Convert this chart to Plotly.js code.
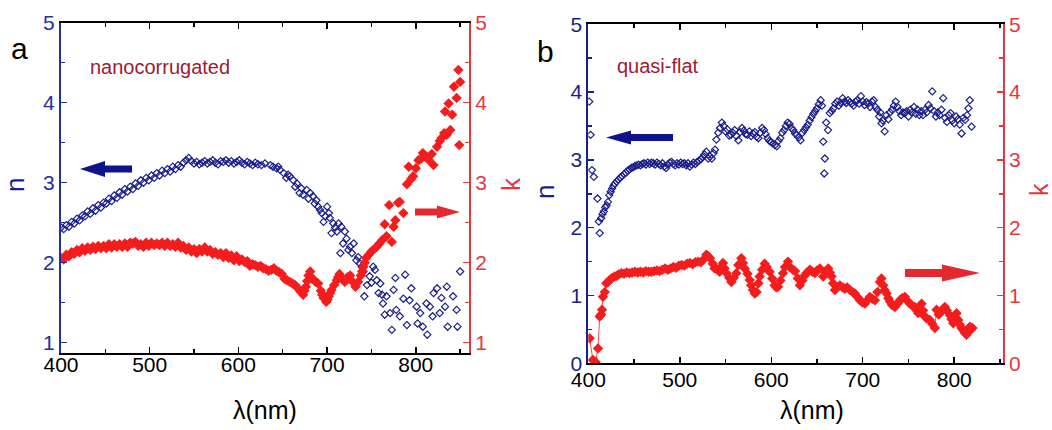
<!DOCTYPE html>
<html>
<head>
<meta charset="utf-8">
<script src="https://cdn.plot.ly/plotly-3.0.1.min.js"></script>
<style>html,body{margin:0;padding:0;background:#fff;}#chart{width:1052px;height:430px;}</style>
</head>
<body>
<div id="chart"></div>
<script>
// ---------- Panel a (nanocorrugated) : refractive index n ----------
const aN_wl = [400,403,406,409,412,415,418,421,424,427,430,433,436,439,442,445,448,451,454,457,460,463,466,469,472,475,478,481,484,487,490,493,496,499,502,505,508,511,514,517,520,523,526,529,532,535,538,541,544,547,550,553,556,559,562,565,568,571,574,577,580,583,586,589,592,595,598,601,604,607,610,613,616,619,622,
626,630,636,639,643,645,647,651,654,656,658,662,664,666,669,671,673,677,679,681,684,686,688,690,692,694,696,698,700,702,703,705,707,709,711,713,715,716,718,720,722,724,726,728,730,733,735,737,739,741,742,745,748,750,752,754,756,758,760,
762,763,765,767,771,773,775,777,778,782,786,788,790,793,795,801,802,805,808,812,813,816,819,820,824,827,829,833,835,836,842,846,847,850];
const aN_val = [2.44,2.42,2.47,2.45,2.51,2.49,2.55,2.53,2.59,2.58,2.64,2.61,2.68,2.65,2.72,2.69,2.75,2.74,2.80,2.77,2.84,2.81,2.88,2.85,2.92,2.89,2.95,2.92,2.99,2.96,3.03,3.00,3.06,3.03,3.09,3.06,3.12,3.09,3.15,3.12,3.17,3.14,3.20,3.17,3.22,3.20,3.25,3.28,3.31,3.27,3.24,3.26,3.23,3.25,3.27,3.24,3.26,3.28,3.25,3.23,3.27,3.26,3.28,3.25,3.27,3.24,3.26,3.28,3.25,3.23,3.26,3.24,3.22,3.25,3.23,
3.22,3.24,3.22,3.20,3.18,3.20,3.16,3.12,3.06,3.10,3.08,3.03,2.95,2.99,2.87,2.93,2.85,2.91,2.80,2.87,2.83,2.74,2.78,2.70,2.66,2.62,2.51,2.58,2.70,2.62,2.56,2.37,2.49,2.44,2.39,2.49,2.12,2.45,2.24,2.39,2.30,2.16,2.20,2.12,2.24,2.03,2.07,1.99,1.95,1.89,1.58,1.72,1.83,1.75,1.95,1.91,1.78,1.62,1.74,
1.60,1.49,1.35,1.58,1.37,1.16,1.66,1.81,1.41,1.33,1.55,1.85,1.22,1.53,1.68,1.45,1.24,1.37,1.20,1.49,1.10,1.45,1.33,1.62,1.68,1.37,1.56,1.45,1.70,1.20,1.58,1.41,1.20,1.89];

// ---------- Panel a : extinction coefficient k ----------
const aK_wl = [400,403,406,409,412,415,418,421,424,427,430,433,436,439,442,445,448,451,454,457,460,463,466,469,472,475,478,481,484,487,490,493,496,499,502,505,508,511,514,517,520,523,526,529,532,535,538,541,544,547,550,553,556,559,562,565,568,571,574,577,580,583,586,589,592,595,598,601,604,607,610,613,616,619,622,
625,628,631,634,637,640,643,646,649,652,655,658,661,664,667,670,673,674.5,676,677.5,679,681,684,687,690,693,694.5,696,699,700.5,702,703.5,705,708,711,712.5,714,717,720,723,726,729,732,735,738,739.5,741,742.5,744,747,750,753,756,759,762,765,767,770,773,775,777,780,782,786,790,792,795,797,800,803,806,808,810,812,815,818,820,824,827,829,832,833,835,837,839,841,843,846,848,849,850];
const aK_val = [2.06,2.04,2.10,2.08,2.13,2.11,2.16,2.13,2.18,2.15,2.19,2.16,2.20,2.17,2.21,2.18,2.21,2.18,2.23,2.19,2.23,2.20,2.23,2.20,2.24,2.20,2.25,2.24,2.26,2.21,2.23,2.20,2.25,2.21,2.25,2.22,2.24,2.22,2.25,2.21,2.25,2.21,2.23,2.20,2.25,2.19,2.21,2.16,2.19,2.14,2.17,2.12,2.17,2.14,2.19,2.14,2.16,2.11,2.13,2.10,2.12,2.07,2.12,2.06,2.09,2.03,2.08,2.02,2.04,2.01,2.02,1.96,1.98,1.97,1.95,
1.96,1.93,1.92,1.90,1.91,1.93,1.90,1.88,1.86,1.80,1.78,1.76,1.74,1.72,1.68,1.64,1.60,1.65,1.70,1.77,1.84,1.89,1.80,1.76,1.74,1.65,1.60,1.56,1.51,1.54,1.58,1.62,1.66,1.72,1.78,1.82,1.86,1.80,1.76,1.82,1.84,1.76,1.70,1.76,1.84,1.89,1.95,2.00,2.06,2.10,2.14,2.17,2.20,2.24,2.28,2.48,2.33,2.72,2.26,2.45,2.53,2.75,2.76,2.62,2.98,3.20,3.05,3.08,3.18,3.28,3.30,3.37,3.33,3.32,3.28,3.36,3.22,3.45,3.52,3.56,3.62,3.89,3.60,3.99,3.66,3.85,4.20,4.06,4.41,3.47,4.26];

// ---------- Panel b (quasi-flat) : refractive index n ----------
const bN_wl = [401,402.5,404,406,410,411.5,412.5,414,415.5,417,418.5,420,421.5,423,424.5,426,427.5,429,431,433,435,437,439,441,443,445,447,449,451,453,455,457,459,461,463,465,467,469,471,473,475,477,479,481,483,485,487,489,491,493,495,497,499,501,503,505,507,509,511,513,515,517,519,521,523,525,527,529,531,533,535,537,538.5,540,542,544,546,548,550,552,554,556,558,560,562,564,566,568,570,572,574,576,578,580,582,584,586,588,590,592,594,596,598,600,602,604,606,608,610,612,614,616,618,620,622,624,626,628,630,632,634,636,638,640,642,644,646,648,650,652,654,655.5,656.8,657.9,658.6,660,662,664,666,668,670,672,674,676,678,680,682,684,686,688,690,692,694,696,698,700,702,704,706,708,710,712,714,716,718,719,720.6,722,724,726,728,730,732,734,736,738,740,742,744,746,748,750,752,754,756,758,760,762,764,766,768,770,772,774,776,778,780,782,784,786,788,790,792,794,796,798,800,802,804,806,808,810,812,814,815.5,817,819];
const bN_val = [3.86,3.37,2.85,2.75,2.43,2.09,1.92,2.14,2.20,2.24,2.30,2.33,2.38,2.48,2.53,2.58,2.62,2.65,2.68,2.71,2.74,2.76,2.79,2.81,2.84,2.86,2.88,2.89,2.91,2.92,2.93,2.92,2.94,2.95,2.93,2.96,2.94,2.96,2.95,2.93,2.96,2.94,2.92,2.95,2.90,2.88,2.93,2.96,2.97,2.94,2.92,2.95,2.93,2.96,2.94,2.95,2.92,2.95,2.90,2.93,2.96,2.94,2.97,2.99,3.01,3.04,3.08,3.12,3.02,3.05,3.02,3.10,3.15,3.30,3.40,3.47,3.55,3.50,3.42,3.45,3.36,3.37,3.40,3.44,3.35,3.29,3.41,3.47,3.43,3.38,3.37,3.42,3.35,3.39,3.41,3.34,3.32,3.40,3.47,3.44,3.38,3.32,3.28,3.26,3.24,3.22,3.20,3.28,3.32,3.40,3.44,3.50,3.55,3.53,3.47,3.44,3.39,3.37,3.33,3.29,3.40,3.44,3.48,3.52,3.58,3.63,3.68,3.72,3.76,3.82,3.88,3.80,3.27,2.80,3.02,3.55,3.44,3.69,3.72,3.76,3.83,3.86,3.80,3.84,3.91,3.86,3.84,3.88,3.85,3.83,3.80,3.86,3.88,3.83,3.94,3.86,3.81,3.85,3.83,3.78,3.86,3.88,3.78,3.74,3.64,3.70,3.54,3.58,3.42,3.66,3.60,3.70,3.74,3.80,3.86,3.78,3.72,3.66,3.70,3.69,3.72,3.64,3.74,3.70,3.78,3.68,3.74,3.66,3.72,3.66,3.74,3.70,3.81,3.76,4.01,3.72,3.64,3.70,3.66,3.74,3.91,3.62,3.56,3.66,3.69,3.58,3.54,3.64,3.60,3.52,3.39,3.62,3.59,3.66,3.76,3.88,3.49];

// ---------- Panel b : extinction coefficient k ----------
const bK_wl = [401.5,405,408,410.6,412.5,414,415,416,418,419.7,421.5,423.4,426,428.8,431,433,436,439,442,445,448,451,454,457,460,463,466,469,472,475,478,481,484,487,490,493,496,499,502,505,508,511,514,517,520,523,526,529,531,533,536,538,541,543.6,545,547.2,549,551,554,556.4,559,561.8,564,567.3,569,571,574,576.4,578,580,582,584,586,587.3,590,592.8,595,598.2,601,603.7,605.5,607.4,610,612.8,615,618.3,620.4,623.7,626,629,631.3,634,636.8,639,642.3,645,647.7,650,653.2,656.8,659,662.3,664,665.9,667.5,669.6,672,675,678,680.5,683,686,689,691.4,694,696.9,699.5,702.4,705,707.8,710.5,713.3,716,718.8,720.5,722.4,724,726.1,728,729.7,732,735.2,738,740.6,743,746.1,749,751.5,754,757,759,760.7,762.5,764.3,766,767.9,770,773.4,776,778.9,780.7,783,786.2,788,789.8,792,795.3,797,799,801,802.6,804.5,806.2,808,809.8,811.5,813.5,815.5,817.1,818.5,820];
const bK_val = [0.37,0.05,0.02,0.22,0.69,0.72,0.79,0.98,1.05,1.18,1.20,1.23,1.26,1.28,1.29,1.31,1.33,1.32,1.34,1.33,1.34,1.35,1.34,1.35,1.34,1.36,1.35,1.35,1.36,1.37,1.36,1.38,1.40,1.38,1.40,1.42,1.41,1.44,1.45,1.44,1.47,1.48,1.46,1.49,1.50,1.49,1.53,1.60,1.58,1.55,1.47,1.40,1.38,1.35,1.42,1.48,1.40,1.33,1.26,1.20,1.26,1.33,1.45,1.55,1.48,1.40,1.32,1.23,1.15,1.08,1.03,1.05,1.18,1.28,1.38,1.47,1.42,1.35,1.25,1.15,1.12,1.13,1.22,1.33,1.42,1.50,1.42,1.38,1.36,1.25,1.15,1.22,1.30,1.34,1.38,1.35,1.33,1.37,1.40,1.28,1.35,1.40,1.34,1.28,1.18,1.08,1.12,1.15,1.12,1.10,1.12,1.08,1.05,1.03,0.98,0.93,0.90,0.88,0.93,0.98,0.95,0.93,1.05,1.20,1.25,1.15,1.08,1.03,0.96,0.91,0.86,0.83,0.88,0.93,0.96,0.98,0.92,0.88,0.85,0.83,0.78,0.74,0.80,0.88,0.78,0.69,0.66,0.64,0.58,0.52,0.79,0.72,0.76,0.80,0.83,0.78,0.71,0.65,0.59,0.68,0.74,0.64,0.57,0.52,0.49,0.45,0.42,0.48,0.54,0.50,0.52];

// ---------- tick labels ----------
const xTicks = [400, 500, 600, 700, 800];
const xMinor = [450, 550, 650, 750, 850];
const yTicksA = [1, 2, 3, 4, 5];
const yMinorA = [1.5, 2.5, 3.5, 4.5];
const yTicksB = [0, 1, 2, 3, 4, 5];
const yMinorB = [0.5, 1.5, 2.5, 3.5, 4.5];

// ---------- styling ----------
const W = 1052, H = 430;
const NAVY = '#1a1f8a';
const RED = '#f41c1c';
const RED_AX = '#e5373c';
const FONT = 'Arial, "Liberation Sans", sans-serif';
const px = x => x / W;
const py = y => 1 - y / H;

const traces = [
  {x: aN_wl, y: aN_val, xaxis: 'x', yaxis: 'y', type: 'scatter', mode: 'markers',
   marker: {symbol: 'diamond-open', size: 5.5, color: NAVY, line: {width: 1.2, color: NAVY}}},
  {x: aK_wl, y: aK_val, xaxis: 'x', yaxis: 'y2', type: 'scatter', mode: 'markers',
   marker: {symbol: 'diamond', size: 8, color: RED}},
  {x: bN_wl, y: bN_val, xaxis: 'x2', yaxis: 'y3', type: 'scatter', mode: 'markers',
   marker: {symbol: 'diamond-open', size: 5.5, color: NAVY, line: {width: 1.2, color: NAVY}}},
  {x: bK_wl, y: bK_val, xaxis: 'x2', yaxis: 'y4', type: 'scatter', mode: 'lines+markers',
   line: {color: RED, width: 0.8},
   marker: {symbol: 'diamond', size: 8, color: RED}}
];

function xAxis(domain, anchor, range, standoff) {
  return {domain: domain, anchor: anchor, range: range, tickvals: xTicks, ticktext: xTicks.map(String),
    ticks: 'inside', ticklen: 6, tickwidth: 1.5, tickcolor: '#000', ticklabelstandoff: standoff,
    minor: {tickvals: xMinor, ticks: 'inside', ticklen: 4, tickwidth: 1.5, tickcolor: '#000'},
    showline: true, linecolor: '#000', linewidth: 2, mirror: 'ticks',
    showgrid: false, zeroline: false, tickfont: {family: FONT, size: 21, color: '#000'}, fixedrange: true};
}
function yAxis(domain, anchor, range, ticks, minor, color, side, overlay) {
  const a = {domain: domain, anchor: anchor, range: range, tickvals: ticks, ticktext: ticks.map(String),
    ticks: 'inside', ticklen: 6, tickwidth: 1.5, tickcolor: color,
    minor: {tickvals: minor, ticks: 'inside', ticklen: 4, tickwidth: 1.5, tickcolor: color},
    showline: true, linecolor: color, linewidth: 2, side: side,
    showgrid: false, zeroline: false, tickfont: {family: FONT, size: 21, color: color}, fixedrange: true};
  if (overlay) { a.overlaying = overlay; delete a.domain; }
  return a;
}

function arrow(xTail, xTip, yc, shaft, headL, headH) {
  const d = xTip > xTail ? 1 : -1;
  const xb = xTip - d * headL;
  const pts = [[xTail, yc - shaft / 2], [xb, yc - shaft / 2], [xb, yc - headH / 2], [xTip, yc],
               [xb, yc + headH / 2], [xb, yc + shaft / 2], [xTail, yc + shaft / 2]];
  return 'M' + pts.map(p => px(p[0]).toFixed(5) + ',' + py(p[1]).toFixed(5)).join(' L') + ' Z';
}

function ann(x, y, text, size, color, angle) {
  return {x: px(x), y: py(y), xref: 'paper', yref: 'paper', text: text, showarrow: false,
    xanchor: 'center', yanchor: 'middle', textangle: angle || 0,
    font: {family: FONT, size: size, color: color}};
}

const layout = {
  width: W, height: H, margin: {l: 0, r: 0, t: 0, b: 0},
  paper_bgcolor: '#fff', plot_bgcolor: 'rgba(0,0,0,0)', showlegend: false,
  font: {family: FONT},
  xaxis: xAxis([61 / W, 469 / W], 'y', [400, 860], -8),
  yaxis: yAxis([1 - 352.7 / H, 1 - 22.7 / H], 'x', [0.875, 5], yTicksA, yMinorA, '#2230a0', 'left'),
  yaxis2: yAxis(null, 'x', [0.875, 5], yTicksA, yMinorA, RED_AX, 'right', 'y'),
  xaxis2: xAxis([588.3 / W, 1002.7 / W], 'y3', [400, 853], -4),
  yaxis3: yAxis([1 - 363.3 / H, 1 - 24.3 / H], 'x2', [0, 5], yTicksB, yMinorB, NAVY, 'left'),
  yaxis4: yAxis(null, 'x2', [0, 5], yTicksB, yMinorB, RED_AX, 'right', 'y3'),
  shapes: [
    {type: 'path', xref: 'paper', yref: 'paper', path: arrow(132, 80, 169, 7, 25, 16), fillcolor: '#10148a', line: {width: 0}},
    {type: 'path', xref: 'paper', yref: 'paper', path: arrow(415, 460, 212, 7, 23, 13), fillcolor: '#e5282e', line: {width: 0}},
    {type: 'path', xref: 'paper', yref: 'paper', path: arrow(673, 606, 137.5, 7, 25, 14), fillcolor: '#10148a', line: {width: 0}},
    {type: 'path', xref: 'paper', yref: 'paper', path: arrow(905, 980, 273, 8, 38, 17), fillcolor: '#e5282e', line: {width: 0}}
  ],
  annotations: [
    ann(19.5, 48, 'a', 30, '#000'),
    ann(545, 52, 'b', 30, '#000'),
    ann(159.5, 67, 'nanocorrugated', 20, '#9b1c31'),
    ann(658, 66, 'quasi-flat', 20, '#9b1c31'),
    ann(15, 185, 'n', 26, NAVY, -90),
    ann(511, 184, 'k', 26, RED_AX, -90),
    ann(545, 192, 'n', 26, NAVY, -90),
    ann(1039, 190, 'k', 25, RED_AX, -90),
    ann(265, 410, 'λ(nm)', 25, '#000'),
    ann(812, 410, 'λ(nm)', 25, '#000')
  ]
};

Plotly.newPlot('chart', traces, layout, {staticPlot: true, displayModeBar: false});
</script>
</body>
</html>
